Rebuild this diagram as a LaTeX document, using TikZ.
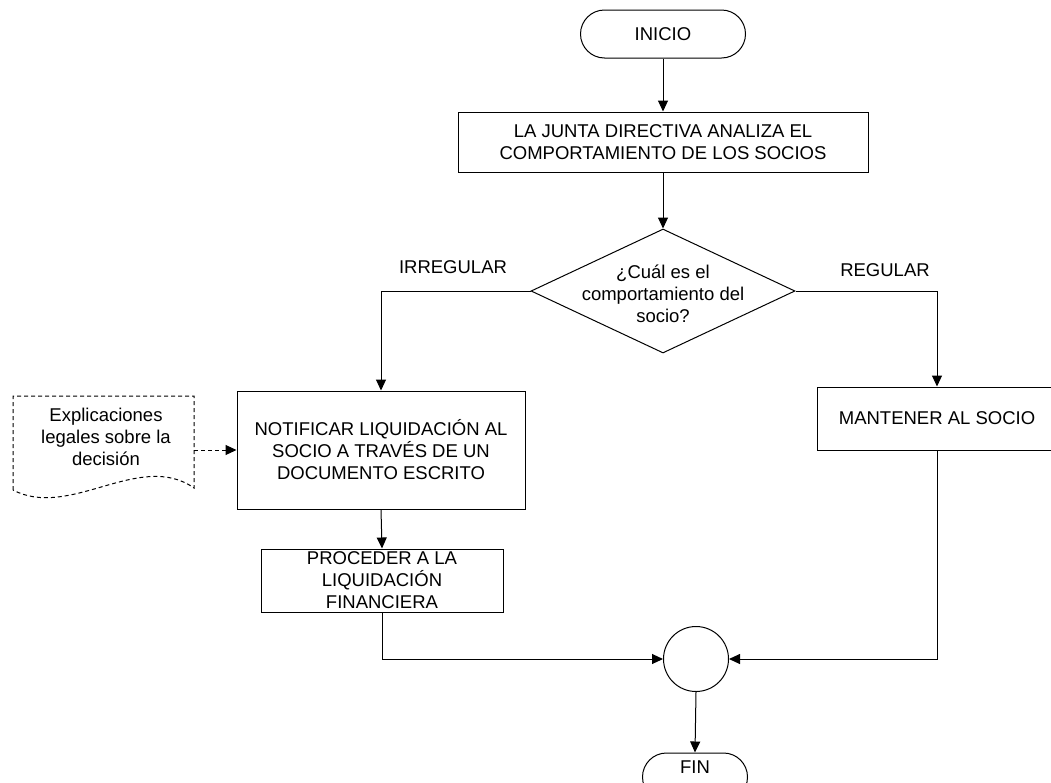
\documentclass[tikz,border=0pt]{standalone}
\usepackage{fontspec}
\setmainfont{Liberation Sans}
\usetikzlibrary{arrows.meta,shapes.geometric}
\begin{document}
\begin{tikzpicture}[x=1pt,y=-1pt,
  font=\fontsize{18.5}{22}\selectfont,
  every node/.style={inner sep=0pt,align=center},
  conn/.style={line width=1pt,-{Triangle[length=11pt,width=10pt]}},
  procbox/.style={draw,line width=1pt,rectangle},
  term/.style={draw,line width=1pt,rounded corners=24pt,minimum height=48pt},
]
\useasboundingbox (0,0) rectangle (1051,782);

\node[term,minimum width=165pt] (inicio) at (663,34) {INICIO};
\node[procbox,minimum width=410pt,minimum height=60pt] (b1) at (663,142) {LA JUNTA DIRECTIVA ANALIZA EL\\COMPORTAMIENTO DE LOS SOCIOS};
\node[draw,diamond,line width=1pt,minimum width=264pt,minimum height=124pt] (dec) at (663,291) {};
\node (dectext) at (663,294) {¿Cuál es el\\comportamiento del\\socio?};
\node (lirr) at (453,267) {IRREGULAR};
\node (lreg) at (885,270) {REGULAR};
\node[procbox,minimum width=288pt,minimum height=118pt] (b2) at (381,450) {NOTIFICAR LIQUIDACIÓN AL\\SOCIO A TRAVÉS DE UN\\DOCUMENTO ESCRITO};
\node[procbox,minimum width=240pt,minimum height=63pt] (b3) at (937,418.5) {MANTENER AL SOCIO};
\node[procbox,minimum width=242pt,minimum height=63pt] (b4) at (382,580.5) {PROCEDER A LA\\LIQUIDACIÓN\\FINANCIERA};
\node[draw,circle,line width=1pt,minimum size=65pt] (circ) at (696,659) {};
\node[term,minimum width=105pt,label={[yshift=10pt]center:FIN}] (fin) at (695,777) {};

% document shape
\draw[line width=1pt,dash pattern=on 4pt off 3pt] (13,490) -- (13,396) -- (194,396) -- (194,488) .. controls (140,450) and (70,520) .. (13,490);
\node (doc) at (106,437) {Explicaciones\\legales sobre la\\decisión};
\coordinate (docout) at (194,450);

% connectors
\draw[conn] (inicio.south) -- (b1.north);
\draw[conn] (b1.south) -- (dec.north);
\draw[conn] (dec.west) -| (b2.north);
\draw[conn] (dec.east) -| (b3.north);
\draw[conn] (b2.south) -- (b4.north);
\draw[conn] (b4.south) |- (circ.west);
\draw[conn] (b3.south) |- (circ.east);
\draw[conn] (circ.south) -- (fin.north);
\draw[conn,dash pattern=on 4pt off 3pt] (docout) -- (b2.west);
\end{tikzpicture}
\end{document}
